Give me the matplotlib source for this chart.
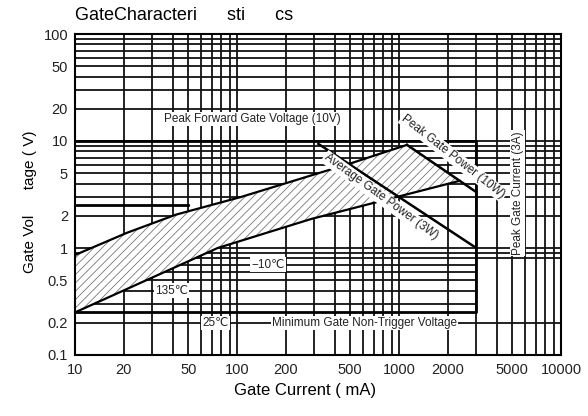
import matplotlib
matplotlib.use('Agg')
import matplotlib.pyplot as plt

plt.rcParams['font.family'] = ['Liberation Sans', 'DejaVu Sans']
plt.rcParams['hatch.linewidth'] = 0.6

# gate current (mA) / gate voltage (V)
upper_I = [10, 21, 42, 106, 318, 490, 1120]
upper_V = [0.86, 1.39, 2.05, 3.0, 5.0, 6.1, 9.2]
lower_I = [10, 76, 288, 2360]
lower_V = [0.25, 1.0, 1.87, 4.24]

peak_I = [1120, 3000]   # peak gate power 10W
peak_V = [9.2, 3.33]
avg_I = [318, 3000]     # average gate power 3W
avg_V = [9.4, 1.0]

vfgm = 10       # peak forward gate voltage
ifgm = 3000     # peak gate current
vgd = 0.25      # bottom of the rated box
vgt_25 = 2.5
igt_25 = 50

xticks = [10, 20, 50, 100, 200, 500, 1000, 2000, 5000, 10000]
yticks = [0.1, 0.2, 0.5, 1, 2, 5, 10, 20, 50, 100]
xgrid = [m * 10 ** k for k in range(1, 4) for m in range(1, 10)]
ygrid = [round(m * 10.0 ** k, 3) for k in range(-1, 2) for m in range(1, 10)]
ygrid_short = [0.3, 0.4, 0.5, 0.6, 0.7]   # these stop at the 3A line

fig = plt.figure(figsize=(5.88, 4.16), dpi=100)
ax = fig.add_axes([75 / 588, 1 - 355 / 416, 486 / 588, 321 / 416])
ax.set_xscale('log')
ax.set_yscale('log')
ax.set_xlim(10, 10000)
ax.set_ylim(0.1, 100)

gkw = dict(color='#111111', lw=1.3, zorder=1)
ax.vlines(xgrid, 0.1, 100, **gkw)
for y in ygrid:
    if y in ygrid_short:
        ax.hlines(y, 10, ifgm, **gkw)
    else:
        ax.hlines(y, 10, 10000, **gkw)

# rated box
bkw = dict(color='black', lw=2.0, zorder=3)
ax.plot([10, ifgm, ifgm, 10], [vfgm, vfgm, vgd, vgd], **bkw)
ax.plot([10, igt_25], [vgt_25, vgt_25], **bkw)

# hatched trigger region
ax.fill(upper_I + lower_I[::-1], upper_V + lower_V[::-1],
        facecolor='white', edgecolor='#777777', hatch='////', lw=0, zorder=2)
ax.plot(upper_I, upper_V, color='black', lw=1.6, zorder=3)
ax.plot(lower_I, lower_V, color='black', lw=1.6, zorder=3)
ax.plot(peak_I, peak_V, color='black', lw=1.8, zorder=3)
ax.plot(avg_I, avg_V, color='black', lw=1.8, zorder=3)

box = dict(boxstyle='square,pad=0.1', fc='white', ec='none')
tkw = dict(fontsize=8.5, color='#222222', ha='center', va='center',
           bbox=box, zorder=4, rotation_mode='anchor')
ax.text(124, 16, 'Peak Forward Gate Voltage (10V)', **tkw)
ax.text(2163, 7.1, 'Peak Gate Power (10W)', rotation=-38, **tkw)
ax.text(773, 3.0, 'Average Gate Power (3W)', rotation=-36, **tkw)
ax.text(5400, 3.27, 'Peak Gate Current (3A)', rotation=90, **tkw)
ax.text(615, 0.2, 'Minimum Gate Non-Trigger Voltage', **tkw)
ax.text(155, 0.7, '\u221210\u2103', **tkw)
ax.text(39.5, 0.4, '135\u2103', **tkw)
ax.text(74, 0.2, '25\u2103', **tkw)

ax.set_xticks(xticks)
ax.set_xticklabels([str(v) for v in xticks])
ax.set_yticks(yticks)
ax.set_yticklabels(['0.1', '0.2', '0.5', '1', '2', '5', '10', '20', '50', '100'])
ax.minorticks_off()
ax.tick_params(length=0, labelsize=10.5, colors='#222222')
ax.tick_params(axis='x', pad=6)
ax.tick_params(axis='y', pad=5)
for s in ax.spines.values():
    s.set_linewidth(1.5)
    s.set_zorder(5)

fig.text(75 / 588, 1 - 16 / 416, 'GateCharacteri      sti      cs',
         fontsize=13, va='center', ha='left')
fig.text(305 / 588, 1 - 390 / 416, 'Gate Current ( mA)', fontsize=12,
         ha='center', va='center')
fig.text(30 / 588, 1 - 202 / 416, 'Gate Vol      tage ( V)', fontsize=11,
         rotation=90, ha='center', va='center')

fig.savefig('out.png', dpi=100)
